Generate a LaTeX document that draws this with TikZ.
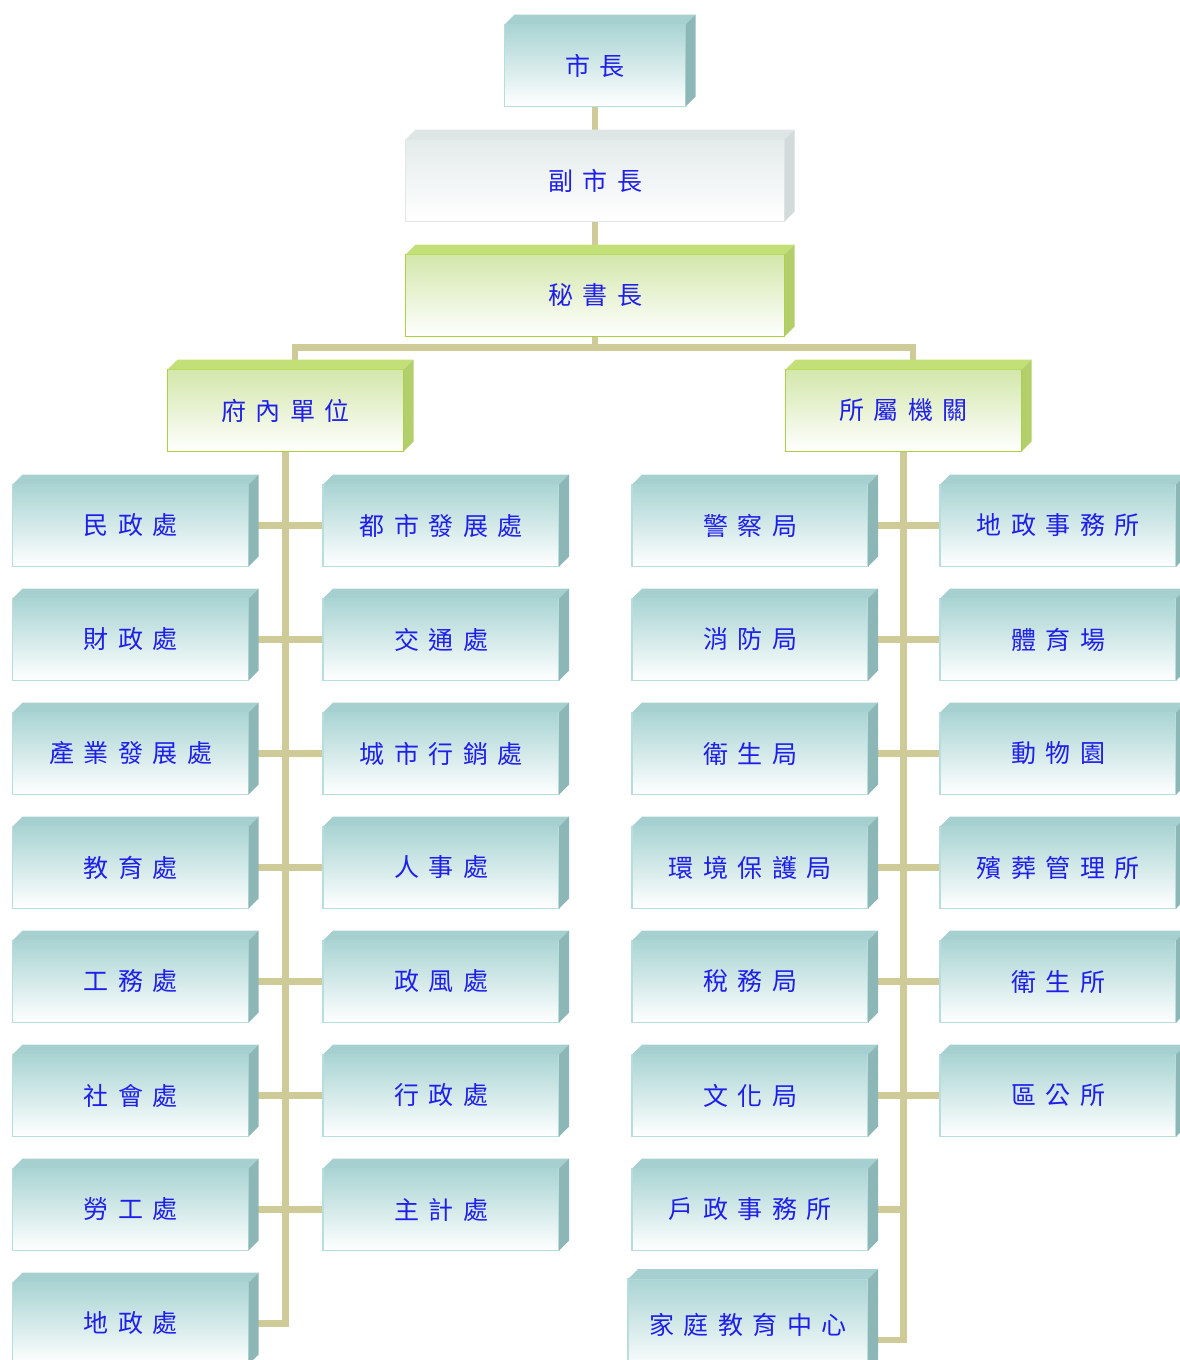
\documentclass[tikz,border=0pt]{standalone}
\usepackage{fontspec}
\usetikzlibrary{positioning,backgrounds}
\newfontfamily\cjk[LetterSpace=38]{Noto Sans CJK TC}

\definecolor{tealtop}{HTML}{A9D4D3}
\definecolor{tealedge}{HTML}{B7DDDC}
\definecolor{tealcap}{HTML}{A6D0CF}
\definecolor{tealside}{HTML}{8CB7B6}
\definecolor{greentop}{HTML}{D3E7AB}
\definecolor{greenedge}{HTML}{A9D23C}
\definecolor{greencap}{HTML}{C3DF78}
\definecolor{greenside}{HTML}{B3CF6B}
\definecolor{graytop}{HTML}{E4EBEB}
\definecolor{grayedge}{HTML}{E2E8E8}
\definecolor{graycap}{HTML}{DEE5E5}
\definecolor{grayside}{HTML}{D3DADA}
\definecolor{linkcol}{HTML}{CFCB98}
\definecolor{labelblue}{HTML}{1F1FEA}

\tikzset{
  office/.style={draw=tealedge, line width=1.5pt, rectangle, top color=tealtop, bottom color=white,
    minimum width=236, minimum height=82, inner sep=0pt, outer sep=0pt,
    text=labelblue, font=\cjk\fontsize{25}{29}\selectfont},
  head/.style={office, draw=greenedge, top color=greentop},
  deputy/.style={office, draw=grayedge, top color=graytop},
  link/.style={draw=linkcol, line width=6.5pt},
}

% top and right faces of a box
\newcommand{\boxfaces}[3]{%
  \fill[#2] (#1.north west) -- ([shift={(10,-10)}]#1.north west) -- ([shift={(10,-10)}]#1.north east) -- (#1.north east) -- cycle;
  \fill[#3] (#1.north east) -- ([shift={(10,-10)}]#1.north east) -- ([shift={(10,-10)}]#1.south east) -- (#1.south east) -- cycle;
}

\begin{document}
\begin{tikzpicture}[x=1pt, y=-1pt]
    \useasboundingbox (0,0) rectangle (1180,1360);
    \clip (0,0) rectangle (1180,1360);

    \node[office, minimum width=181] (mayor) at (595,65.5) {市長};
    \boxfaces{mayor}{tealcap}{tealside}
    \node[deputy, minimum width=379] (vice) at (595,180.5) {副市長};
    \boxfaces{vice}{graycap}{grayside}
    \node[head, minimum width=379] (sec) at (595,295.5) {秘書長};
    \boxfaces{sec}{greencap}{greenside}

    \node[head] (inner) at (285.5,410.5) {府內單位};
    \boxfaces{inner}{greencap}{greenside}
    \node[head] (outer) at (903.5,410.5) {所屬機關};
    \boxfaces{outer}{greencap}{greenside}

    % 府內單位
    \foreach \name/\x/\row/\txt in {a1/130.5/0/民政處, a2/130.5/1/財政處, a3/130.5/2/產業發展處,
        a4/130.5/3/教育處, a5/130.5/4/工務處, a6/130.5/5/社會處, a7/130.5/6/勞工處, a8/130.5/7/地政處,
        b1/441/0/都市發展處, b2/441/1/交通處, b3/441/2/城市行銷處, b4/441/3/人事處,
        b5/441/4/政風處, b6/441/5/行政處, b7/441/6/主計處} {
        \node[office] (\name) at (\x,525.5+114*\row) {\txt};
        \boxfaces{\name}{tealcap}{tealside}
    }

    % 所屬機關
    \foreach \name/\x/\row/\txt in {c1/750/0/警察局, c2/750/1/消防局, c3/750/2/衛生局,
        c4/750/3/環境保護局, c5/750/4/稅務局, c6/750/5/文化局, c7/750/6/戶政事務所,
        d1/1058/0/地政事務所, d2/1058/1/體育場, d3/1058/2/動物園, d4/1058/3/殯葬管理所,
        d5/1058/4/衛生所, d6/1058/5/區公所} {
        \node[office] (\name) at (\x,525.5+114*\row) {\txt};
        \boxfaces{\name}{tealcap}{tealside}
    }
    \node[office, minimum width=240, minimum height=92] (c8) at (748,1325) {家庭教育中心};
    \boxfaces{c8}{tealcap}{tealside}

    \begin{scope}[on background layer]
        \draw[link] (mayor) -- (vice);
        \draw[link] (vice) -- (sec);
        \draw[link] (sec.south) -- ([yshift=-11pt]sec.south) -| ([xshift=9.5pt]inner.north);
        \draw[link] ([yshift=-11pt]sec.south) -| ([xshift=9.5pt]outer.north);
        \draw[link] (inner.south) |- (a8.east);
        \draw[link] (outer.south) |- ([yshift=-15pt]c8.east);
        \foreach \i in {1,...,7} \draw[link] (a\i.east) -- (b\i.west);
        \foreach \i in {1,...,6} \draw[link] (c\i.east) -- (d\i.west);
        \draw[link] (c7.east) -- (c7.east -| outer.south);
    \end{scope}
\end{tikzpicture}
\end{document}
